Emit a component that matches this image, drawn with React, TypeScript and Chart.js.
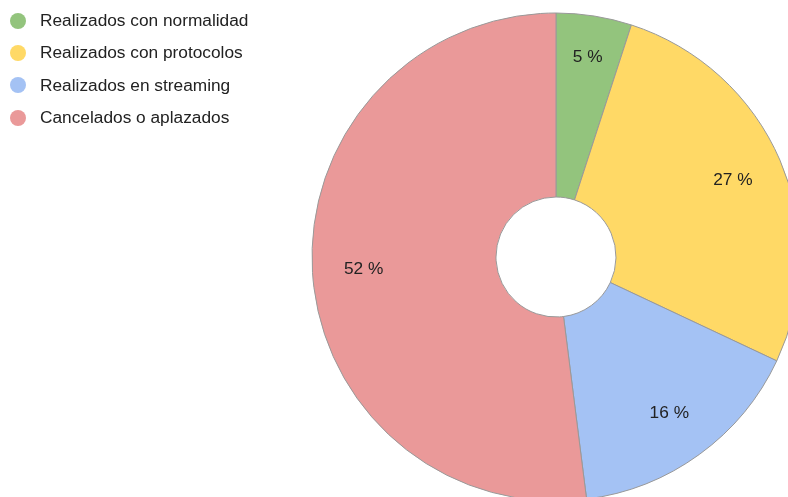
import React, { useEffect, useRef } from "react";
import { Chart, registerables } from "chart.js";

Chart.register(...registerables);

const categories = [
  "Realizados con normalidad",
  "Realizados con protocolos",
  "Realizados en streaming",
  "Cancelados o aplazados",
];
const values = [5, 27, 16, 52];
const colors = ["#93c47d", "#ffd966", "#a4c2f4", "#ea9999"];

const FONT = "Arial, 'Liberation Sans', sans-serif";

const labelPlugin = {
  id: "sliceLabels",
  afterDatasetsDraw(chart: any) {
    const ctx = chart.ctx;
    const meta = chart.getDatasetMeta(0);
    const data = chart.data.datasets[0].data as number[];
    const total = data.reduce((a, b) => a + b, 0);
    ctx.save();
    ctx.font = `17.3px ${FONT}`;
    ctx.fillStyle = "#222222";
    ctx.textAlign = "center";
    ctx.textBaseline = "middle";
    meta.data.forEach((arc: any, i: number) => {
      const { x, y, startAngle, endAngle, outerRadius } = arc.getProps(
        ["x", "y", "startAngle", "endAngle", "outerRadius"],
        true
      );
      const mid = (startAngle + endAngle) / 2;
      const frac = data[i] / total;
      // thin slices push the label outward so it fits between the edges
      const r = outerRadius * (frac < 0.1 ? 0.83 : 0.79);
      const pct = Math.round(frac * 100);
      ctx.fillText(`${pct} %`, x + Math.cos(mid) * r, y + Math.sin(mid) * r);
    });
    ctx.restore();
  },
};

export default function App() {
  const ref = useRef<HTMLCanvasElement>(null);
  useEffect(() => {
    const prevOverflow = document.body.style.overflow;
    document.body.style.overflow = "hidden";
    const chart = new Chart(ref.current!, {
      type: "doughnut",
      data: {
        labels: categories,
        datasets: [
          {
            data: values,
            backgroundColor: colors,
            borderColor: "#999999",
            borderWidth: 1,
          },
        ],
      },
      options: {
        responsive: false,
        animation: false,
        cutout: 60,
        layout: {
          padding: { left: 311.5, top: 12.5, right: 19.5, bottom: 18.5 },
        },
        plugins: {
          legend: { display: false },
          tooltip: { enabled: false },
        },
      },
      plugins: [labelPlugin],
    });
    return () => {
      chart.destroy();
      document.body.style.overflow = prevOverflow;
    };
  }, []);

  return (
    <div
      style={{
        position: "absolute",
        left: 0,
        top: 0,
        width: 788,
        height: 497,
        overflow: "hidden",
        background: "#ffffff",
      }}
    >
      <canvas
        ref={ref}
        width={820}
        height={520}
        style={{ position: "absolute", left: 0, top: 0, display: "block" }}
      />
      <div style={{ position: "absolute", left: 10, top: 4.5 }}>
        {categories.map((c, i) => (
          <div
            key={c}
            style={{
              display: "flex",
              alignItems: "center",
              height: 32.3,
              fontFamily: FONT,
              fontSize: 17.3,
              color: "#222222",
              whiteSpace: "nowrap",
            }}
          >
            <span
              style={{
                display: "inline-block",
                width: 16,
                height: 16,
                borderRadius: "50%",
                background: colors[i],
                marginRight: 14,
              }}
            />
            <span>{c}</span>
          </div>
        ))}
      </div>
    </div>
  );
}
